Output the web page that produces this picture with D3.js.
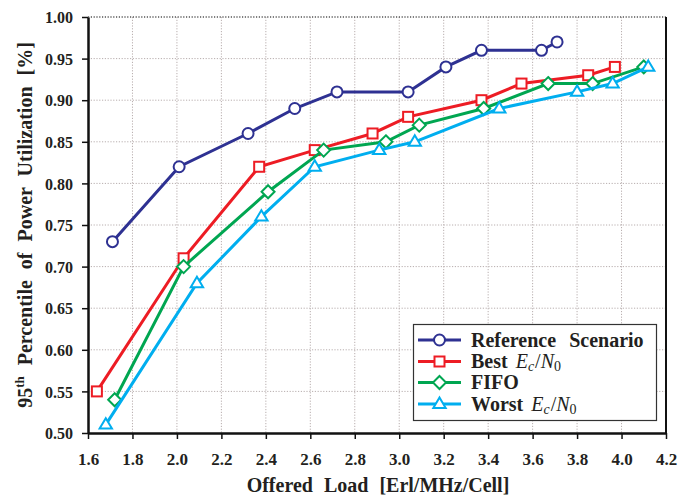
<!DOCTYPE html>
<html><head><meta charset="utf-8">
<script src="https://cdn.jsdelivr.net/npm/d3@7"></script>
<style>
html,body{margin:0;padding:0;background:#fff;}
svg{display:block;font-family:"Liberation Serif","Times New Roman",serif;}
</style></head>
<body>
<svg id="chart" width="689" height="498"></svg>
<script>
const xTicks = [1.6,1.8,2.0,2.2,2.4,2.6,2.8,3.0,3.2,3.4,3.6,3.8,4.0,4.2];
const yTicks = [0.50,0.55,0.60,0.65,0.70,0.75,0.80,0.85,0.90,0.95,1.00];

const refX = [1.71,2.01,2.32,2.53,2.72,3.04,3.21,3.37,3.64,3.71];
const refY = [0.73,0.82,0.86,0.89,0.91,0.91,0.94,0.96,0.96,0.97];
const bestX = [1.64,2.03,2.37,2.62,2.88,3.04,3.37,3.55,3.85,3.97];
const bestY = [0.55,0.71,0.82,0.84,0.86,0.88,0.90,0.92,0.93,0.94];
const fifoX = [1.72,2.03,2.41,2.66,2.94,3.09,3.38,3.67,3.87,4.10];
const fifoY = [0.54,0.70,0.79,0.84,0.85,0.87,0.89,0.92,0.92,0.94];
const worstX = [1.68,2.09,2.38,2.62,2.91,3.07,3.45,3.80,3.96,4.12];
const worstY = [0.51,0.68,0.76,0.82,0.84,0.85,0.89,0.91,0.92,0.94];

const seriesNames = ["Reference Scenario","Best","FIFO","Worst"];
const seriesColors = ["#2e3192","#ed1c24","#00a651","#00aeef"];
const seriesMarkers = ["circle","square","diamond","triangle"];

const series = [
  {name:seriesNames[0], x:refX, y:refY, color:seriesColors[0], marker:seriesMarkers[0]},
  {name:seriesNames[1], x:bestX, y:bestY, color:seriesColors[1], marker:seriesMarkers[1]},
  {name:seriesNames[2], x:fifoX, y:fifoY, color:seriesColors[2], marker:seriesMarkers[2]},
  {name:seriesNames[3], x:worstX, y:worstY, color:seriesColors[3], marker:seriesMarkers[3]}
];

const svg = d3.select("#chart");
const m = {left:88, right:666, top:17, bottom:433};
const x = d3.scaleLinear().domain([1.6,4.2]).range([m.left,m.right]);
const y = d3.scaleLinear().domain([0.5,1.0]).range([m.bottom,m.top]);

// gridlines
const grid = svg.append("g");
grid.selectAll("line.v").data(xTicks.slice(1,-1)).enter().append("line")
  .attr("x1",d=>x(d)).attr("x2",d=>x(d)).attr("y1",m.top).attr("y2",m.bottom)
  .attr("stroke","#b8aeae").attr("stroke-width",1).attr("stroke-dasharray","1.2,1.6");
grid.selectAll("line.h").data(yTicks.slice(1)).enter().append("line")
  .attr("y1",d=>y(d)).attr("y2",d=>y(d)).attr("x1",m.left).attr("x2",m.right)
  .attr("stroke",(d)=>d===1.0?"#555":"#b8aeae").attr("stroke-width",d=>d===1.0?1.5:1).attr("stroke-dasharray","1.2,1.6");

// right border
svg.append("line").attr("x1",m.right).attr("x2",m.right).attr("y1",m.top).attr("y2",m.bottom)
  .attr("stroke","#111").attr("stroke-width",2);

// axes
const xAxis = d3.axisBottom(x).tickValues(xTicks).tickFormat(d3.format(".1f")).tickSize(6).tickSizeOuter(0);
const yAxis = d3.axisLeft(y).tickValues(yTicks).tickFormat(d3.format(".2f")).tickSize(6).tickSizeOuter(0);
const gx = svg.append("g").attr("transform",`translate(0,${m.bottom})`).call(xAxis);
const gy = svg.append("g").attr("transform",`translate(${m.left},0)`).call(yAxis);
[gx,gy].forEach(g=>{
  g.select(".domain").attr("stroke","#111").attr("stroke-width",2.5);
  g.selectAll(".tick line").attr("stroke","#111").attr("stroke-width",1.5);
  g.selectAll(".tick text").attr("fill","#231f20").attr("font-family","Liberation Serif, serif")
    .attr("font-weight","bold").attr("font-size",16);
});
gx.selectAll(".tick text").attr("dy","0").attr("y",32).attr("font-size",17);
gy.selectAll(".tick text").attr("x",-15).attr("dy","0.36em");

// axis titles
svg.append("text").attr("x",378).attr("y",492).attr("text-anchor","middle")
  .attr("font-weight","bold").attr("font-size",20).attr("word-spacing",6).attr("fill","#231f20")
  .text("Offered Load [Erl/MHz/Cell]");
const yt = svg.append("text").attr("transform",`translate(32,225) rotate(-90)`)
  .attr("text-anchor","middle").attr("font-weight","bold").attr("font-size",20).attr("word-spacing",6).attr("fill","#231f20");
yt.append("tspan").text("95");
yt.append("tspan").attr("font-size",13).attr("dy",-8).text("th");
yt.append("tspan").attr("dy",8).text(" Percentile of Power Utilization [%]");

// markers
function drawMarker(g, type, cx, cy, color, s) {
  s = s || 1;
  let el;
  if (type==="circle") el = g.append("circle").attr("cx",cx).attr("cy",cy).attr("r",5.5*s);
  else if (type==="square") el = g.append("rect").attr("x",cx-5*s).attr("y",cy-5*s).attr("width",10*s).attr("height",10*s);
  else if (type==="diamond") { const r=6.5*s; el = g.append("path").attr("d",`M${cx},${cy-r}L${cx+r},${cy}L${cx},${cy+r}L${cx-r},${cy}Z`); }
  else { const r=6.5*s; el = g.append("path").attr("d",`M${cx},${cy-r}L${cx+r*0.95},${cy+r*0.6}L${cx-r*0.95},${cy+r*0.6}Z`); }
  el.attr("fill","#fff").attr("stroke",color).attr("stroke-width",2);
}

const line = d3.line().x(d=>x(d[0])).y(d=>y(d[1]));
series.forEach(s=>{
  const pts = s.x.map((v,i)=>[v,s.y[i]]);
  const g = svg.append("g");
  g.append("path").datum(pts).attr("d",line).attr("fill","none").attr("stroke",s.color).attr("stroke-width",3);
  pts.forEach(p=>drawMarker(g, s.marker, x(p[0]), y(p[1]), s.color));
});

// legend
const lg = svg.append("g");
lg.append("rect").attr("x",413.5).attr("y",324.5).attr("width",243).attr("height",96)
  .attr("fill","#fff").attr("stroke","#333").attr("stroke-width",1.2);
const rowY = [340,361.5,382.5,404];
series.forEach((s,i)=>{
  const ry = rowY[i];
  lg.append("line").attr("x1",418).attr("x2",461).attr("y1",ry).attr("y2",ry).attr("stroke",s.color).attr("stroke-width",3);
  drawMarker(lg, s.marker, 439.5, ry, s.color, 1);
  const t = lg.append("text").attr("x",471).attr("y",ry+6.5).attr("font-size",20).attr("fill","#231f20");
  if (i===0 || i===2) { t.attr("word-spacing",8); t.append("tspan").attr("font-weight","bold").text(s.name); }
  else {
    t.attr("word-spacing",3);
    t.append("tspan").attr("font-weight","bold").text(s.name+" ");
    t.append("tspan").attr("font-style","italic").text("E");
    t.append("tspan").attr("font-style","italic").attr("font-size",14).attr("dy",3).text("c");
    t.append("tspan").attr("dy",-3).attr("dx",1).text("/");
    t.append("tspan").attr("font-style","italic").text("N");
    t.append("tspan").attr("font-size",14).attr("dy",3).text("0");
  }
});
</script>
</body></html>
